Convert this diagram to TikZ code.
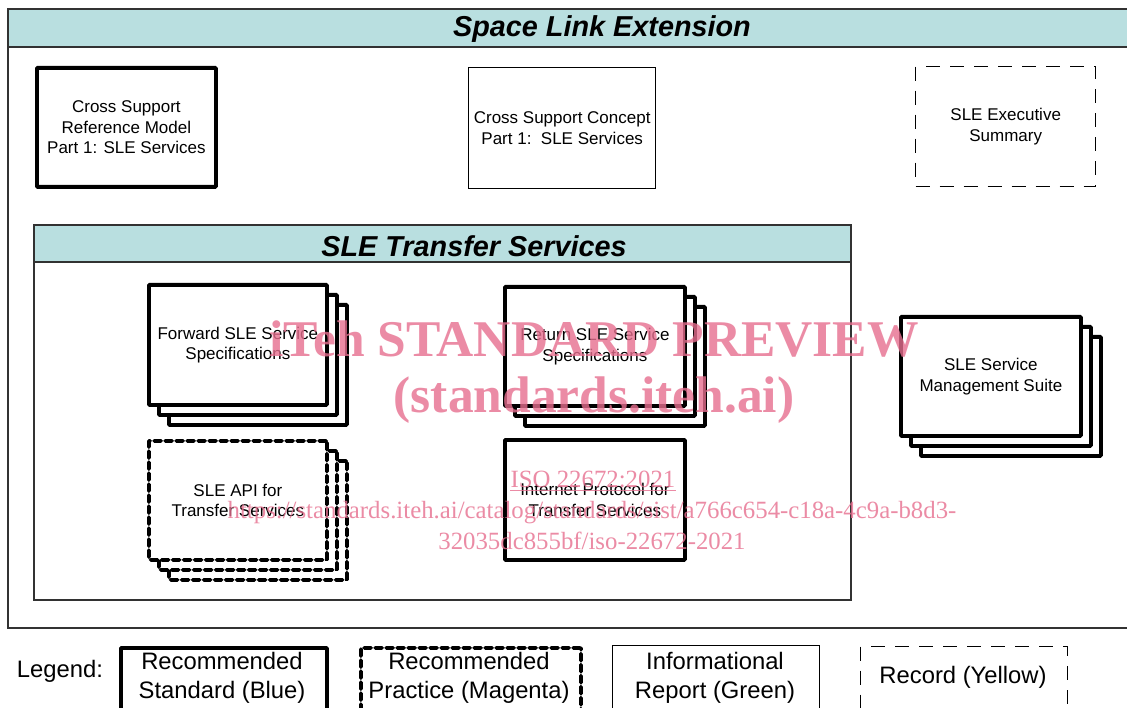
\documentclass[tikz,border=0pt]{standalone}
\usepackage{fontspec}
\setmainfont{Liberation Sans}
\newfontfamily\wmfont{Liberation Serif}
\definecolor{band}{RGB}{185,223,224}
\definecolor{wm}{RGB}{231,111,143}
\definecolor{framec}{RGB}{50,50,50}
\tikzset{
  thickbox/.style={draw=black, line width=3.8pt, fill=white, inner sep=0pt, anchor=north west, rounded corners=0.8pt},
  thinbox/.style={draw=black, line width=1.4pt, fill=white, inner sep=0pt, anchor=north west},
  thickdash/.style={thickbox, dash pattern=on 7pt off 4pt, line cap=round},
  thindash/.style={draw=black, line width=1.4pt, fill=white, inner sep=0pt, anchor=north west, dash pattern=on 14pt off 10pt},
  frame/.style={draw=framec, line width=1.3pt},
  bandfill/.style={fill=band, draw=framec, line width=1.3pt},
  txt/.style={font=\fontsize{17}{20.5}\selectfont, align=center},
  legtxt/.style={font=\fontsize{23.8}{29}\selectfont, align=center},
  ttl/.style={font=\fontsize{28.8}{31}\selectfont\bfseries\itshape},
  wmbig/.style={text=wm, opacity=0.8, font=\wmfont\bfseries\fontsize{51.5}{55}\selectfont, anchor=base, inner sep=0pt},
  wmsmall/.style={text=wm, opacity=0.8, font=\wmfont\fontsize{24.8}{28}\selectfont, anchor=base, inner sep=0pt},
}
\begin{document}
\begin{tikzpicture}[x=1pt,y=-1pt]
\useasboundingbox (0,0) rectangle (1127,708);
\clip (0,0) rectangle (1127,708);
\fill[white] (0,0) rectangle (1127,708);
% outer frame
\draw[frame] (8,9) rectangle (1198,628);
\draw[bandfill] (8,9) rectangle (1198,47);
\node[ttl] (sletitle) at (602,29) {Space Link Extension};
% top row
\node[thickbox, minimum width=179pt, minimum height=119pt, txt] (csrm) at (35,66) {Cross Support\\Reference Model\\Part 1: SLE Services};
\node[thinbox, minimum width=187pt, minimum height=121pt, txt] (csc) at (468,67) {Cross Support Concept\\Part 1:\ \ SLE Services};
\node[thindash, minimum width=180pt, minimum height=120pt, txt] (exec) at (915,66) {SLE Executive\\Summary};
% inner frame
\draw[frame] (34,225) rectangle (851,600);
\draw[bandfill] (34,225) rectangle (851,262);
\node[ttl] (tstitle) at (474,246) {SLE Transfer Services};
% forward stack
\node[thickbox, minimum width=178pt, minimum height=120pt] (fwd3) at (167,303) {};
\node[thickbox, minimum width=178pt, minimum height=120pt] (fwd2) at (157,293) {};
\node[thickbox, minimum width=178pt, minimum height=120pt, txt] (fwd) at (147,283) {Forward SLE Service\\Specifications};
% return stack
\node[thickbox, minimum width=180pt, minimum height=119pt] (ret3) at (523,305) {};
\node[thickbox, minimum width=180pt, minimum height=119pt] (ret2) at (513,295) {};
\node[thickbox, minimum width=180pt, minimum height=119pt, txt] (ret) at (503,285) {Return SLE Service\\Specifications};
% API stack
\node[thickdash, minimum width=178pt, minimum height=119pt] (api3) at (167,459) {};
\node[thickdash, minimum width=178pt, minimum height=119pt] (api2) at (157,449) {};
\node[thickdash, minimum width=178pt, minimum height=119pt, txt] (api) at (147,439) {SLE API for\\Transfer Services};
% IP box
\node[thickbox, minimum width=180pt, minimum height=120pt, txt] (ip) at (503,438) {Internet Protocol for\\Transfer Services};
% management stack
\node[thickbox, minimum width=180pt, minimum height=119pt] (sm3) at (919,335) {};
\node[thickbox, minimum width=180pt, minimum height=119pt] (sm2) at (909,325) {};
\node[thickbox, minimum width=180pt, minimum height=119pt, txt] (sm) at (899,315) {SLE Service\\Management Suite};
% legend
\node[legtxt] (legend) at (60,671) {Legend:};
\node[thickbox, minimum width=206pt, minimum height=90pt] (lrs) at (119,646) {};
\node[legtxt, anchor=north] (lrst) at (222,649) {Recommended\\Standard (Blue)};
\node[thickdash, minimum width=220pt, minimum height=90pt] (lrp) at (359,646) {};
\node[legtxt, anchor=north] (lrpt) at (469,649) {Recommended\\Practice (Magenta)};
\node[thinbox, minimum width=207pt, minimum height=90pt] (lir) at (612,645) {};
\node[legtxt, anchor=north] (lirt) at (715,649) {Informational\\Report (Green)};
\node[thindash, minimum width=207pt, minimum height=90pt] (lrec) at (860,646) {};
\node[legtxt] (lrect) at (963,677) {Record (Yellow)};
% watermark
\node[wmbig] (wm1) at (594,357) {iTeh STANDARD PREVIEW};
\node[wmbig] (wm2) at (594,413) {(standards.iteh.ai)};
\node[wmsmall] (wm3) at (593,487) {ISO 22672:2021};
\draw[wm, opacity=0.8, line width=1.2pt] (wm3.south west) ++(0,3) -- ([yshift=-3pt]wm3.south east);
\node[wmsmall] (wm4) at (592,518) {https://standards.iteh.ai/catalog/standards/sist/a766c654-c18a-4c9a-b8d3-};
\node[wmsmall] (wm5) at (592,549) {32035dc855bf/iso-22672-2021};
\end{tikzpicture}
\end{document}
